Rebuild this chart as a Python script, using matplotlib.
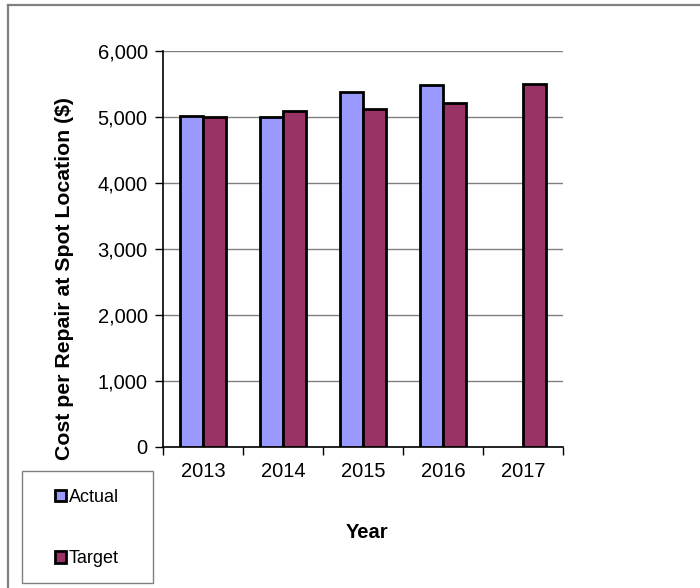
import matplotlib.pyplot as plt
import matplotlib.patches as mpatches
from matplotlib.lines import Line2D
import numpy as np

plt.rcParams['font.family'] = ['Liberation Sans', 'DejaVu Sans']

years = ["2013", "2014", "2015", "2016", "2017"]
actual = [5015, 5000, 5375, 5480, np.nan]
target = [5000, 5085, 5125, 5215, 5505]

W, H = 700, 588
fig = plt.figure(figsize=(W / 100, H / 100), dpi=100)
ax = fig.add_axes([163 / W, 1 - 447 / H, 400 / W, 396 / H])

x = np.arange(len(years))
w = 0.29
ax.bar(x - w / 2, actual, w, color="#9999FF", edgecolor="black", linewidth=2,
       label="Actual", zorder=3)
ax.bar(x + w / 2, target, w, color="#993366", edgecolor="black", linewidth=2,
       label="Target", zorder=3)

ax.set_xlim(-0.5, len(years) - 0.5)
ax.set_ylim(0, 6000)
ax.set_yticks(range(0, 6001, 1000))
ax.set_yticklabels([f"{v:,}" for v in range(0, 6001, 1000)], fontsize=14.5)
ax.set_xticks(x)
ax.set_xticklabels(years, fontsize=14.5)
ax.set_xticks(np.arange(-0.5, len(years)), minor=True)
ax.tick_params(axis="x", which="major", length=0, pad=11)
ax.tick_params(axis="x", which="minor", length=6, width=1)
ax.tick_params(axis="y", length=6, width=1, pad=5)

ax.grid(axis="y", color="#808080", linewidth=1, zorder=0)
for s in ["top", "right"]:
    ax.spines[s].set_visible(False)
ax.spines["left"].set_linewidth(1.2)
ax.spines["bottom"].set_linewidth(1.2)

# axis titles placed like the original (y title sits lower than the axes centre)
fig.text(65 / W, 1 - 278.5 / H, "Cost per Repair at Spot Location ($)", rotation=90,
         ha="center", va="center", fontsize=15.3, fontweight="bold")
fig.text(367.5 / W, 1 - 532.5 / H, "Year", ha="center", va="center",
         fontsize=14.5, fontweight="bold")

# legend box
fig.add_artist(mpatches.Rectangle((22 / W, 1 - 583 / H), 131 / W, 112 / H,
                                  transform=fig.transFigure, fill=False,
                                  edgecolor="#808080", linewidth=1))
handles = [mpatches.Patch(facecolor="#9999FF", edgecolor="black", linewidth=2),
           mpatches.Patch(facecolor="#993366", edgecolor="black", linewidth=2)]
leg = fig.legend(handles, ["Actual", "Target"], loc="upper left",
                 bbox_to_anchor=(55 / W, 1 - 489 / H), fontsize=13,
                 frameon=False, borderaxespad=0, borderpad=0,
                 handlelength=0.6, handleheight=0.6, handletextpad=0.15,
                 labelspacing=2.45)

# figure frame: only top and left edges are visible
fig.add_artist(Line2D([8 / W, 1.0], [1 - 5 / H, 1 - 5 / H], transform=fig.transFigure,
                      color="#808080", linewidth=1.6))
fig.add_artist(Line2D([8 / W, 8 / W], [0.0, 1 - 5 / H], transform=fig.transFigure,
                      color="#808080", linewidth=1.6))

fig.savefig("out.png", dpi=100)
